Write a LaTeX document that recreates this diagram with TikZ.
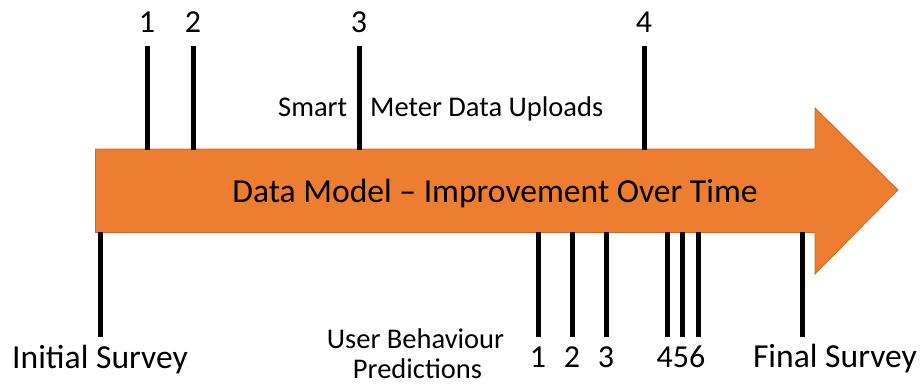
\documentclass[tikz,border=0pt]{standalone}
\usepackage{fontspec}
\setmainfont{Carlito}
\definecolor{arroworange}{HTML}{ED7D31}
\definecolor{arrowedge}{HTML}{C8692A}
\begin{document}
\begin{tikzpicture}[x=1pt,y=-1pt,
  tick/.style={line width=5pt,black},
  bigtext/.style={font=\fontsize{33.6}{36}\selectfont,inner sep=0pt},
  numtext/.style={font=\fontsize{32}{34}\selectfont,inner sep=0pt,anchor=base},
  midtext/.style={font=\fontsize{28.5}{31}\selectfont,inner sep=0pt}]
\useasboundingbox (0,0) rectangle (920,385);
% arrow
\draw[fill=arroworange,draw=arrowedge,line width=0.8pt]
  (95.5,149) -- (815,149) -- (815,108) -- (898,190) -- (815,274) -- (815,232.5) -- (95.5,232.5) -- cycle;
\node[bigtext,anchor=base] (title) at (495,202) {Data Model – Improvement Over Time};
% top ticks
\foreach \n/\x in {1/147,2/193,3/359,4/644}{
  \coordinate (ut\n) at (\x,46);
  \coordinate (ub\n) at (\x,149.5);
  \draw[tick] (ut\n) -- (ub\n);
  \node[numtext] (un\n) at (\x,33) {\n};
}
\node[midtext,anchor=base west] (smart) at (278,117) {Smart};
\node[midtext,anchor=base west] (meter) at (370,117) {Meter Data Uploads};
% bottom ticks
\foreach \n/\x in {is/100,p1/538,p2/572,p3/606,p4/667,p5/682,p6/698,fs/802}{
  \coordinate (lt\n) at (\x,232);
  \coordinate (lb\n) at (\x,337);
  \draw[tick] (lt\n) -- (lb\n);
}
\node[bigtext,anchor=base] (initial) at (100,368) {Initial Survey};
\node[bigtext,anchor=base] (final) at (835,367) {Final Survey};
\node[numtext] (n1) at (538,367) {1};
\node[numtext] (n2) at (572,367) {2};
\node[numtext] (n3) at (606,367) {3};
\node[numtext] (n456) at (681,367) {456};
\node[midtext,anchor=base] (ub) at (415.5,348) {User Behaviour};
\node[midtext,anchor=base] (pred) at (417.5,378) {Predictions};
\end{tikzpicture}
\end{document}
